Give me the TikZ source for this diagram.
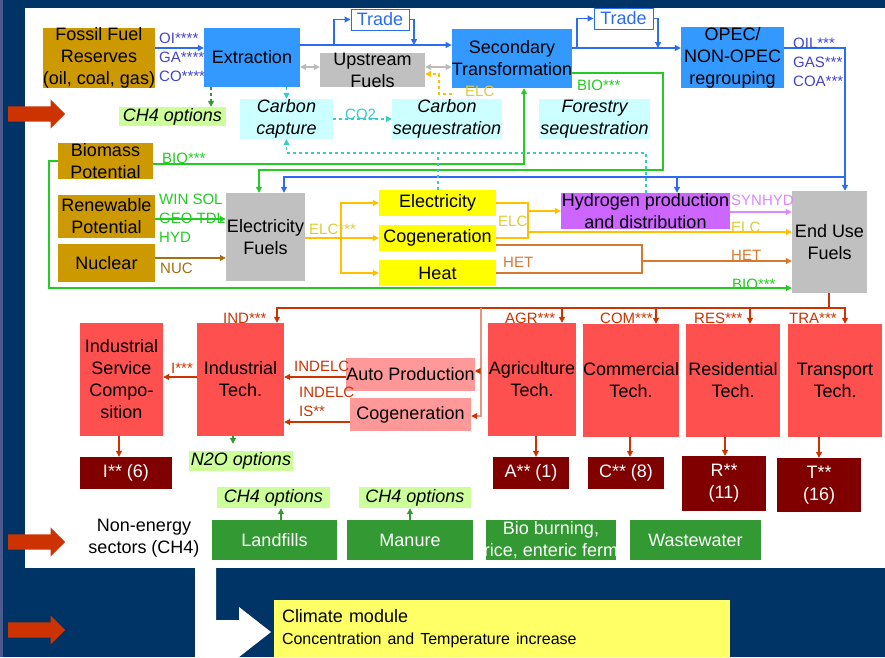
\documentclass[tikz,border=0pt]{standalone}
\usepackage{fontspec}
\setmainfont{Liberation Sans}
\usetikzlibrary{arrows.meta, shapes.arrows}
\definecolor{deep-navy}{HTML}{003366}
\definecolor{side-strip}{HTML}{4A5A8C}
\definecolor{fuel-gold}{HTML}{CC9900}
\definecolor{fuel-blue}{HTML}{3399FF}
\definecolor{fuel-gray}{HTML}{C0C0C0}
\definecolor{pale-cyan}{HTML}{CCFFFF}
\definecolor{pale-green}{HTML}{CCFF99}
\definecolor{power-yellow}{HTML}{FFFF00}
\definecolor{hydro-violet}{HTML}{CC66FF}
\definecolor{tech-red}{HTML}{FF5050}
\definecolor{tech-pink}{HTML}{FF9999}
\definecolor{out-maroon}{HTML}{800000}
\definecolor{ghg-green}{HTML}{339933}
\definecolor{climate-yellow}{HTML}{FFFF66}
\definecolor{pointer-red}{HTML}{CC3300}
\definecolor{flow-blue}{HTML}{2B6CF2}
\definecolor{label-violet}{HTML}{4444CC}
\definecolor{flow-green}{HTML}{22CC22}
\definecolor{flow-amber}{HTML}{FFC000}
\definecolor{label-amber}{HTML}{DDCC33}
\definecolor{flow-brown}{HTML}{A36F14}
\definecolor{flow-orange}{HTML}{D9782F}
\definecolor{flow-pink}{HTML}{DD88FF}
\definecolor{flow-cyan}{HTML}{33CCCC}
\definecolor{flow-red}{HTML}{CC3300}
\definecolor{flow-salmon}{HTML}{E8957F}
\definecolor{arrow-gray}{HTML}{BBBBBB}

\begin{document}
\begin{tikzpicture}[x=1pt, y=-1pt,
    >={Triangle[length=6pt, width=6pt]},
    every node/.style={font=\fontsize{18}{22}\selectfont, inner sep=0pt},
    dims/.style 2 args={minimum width=#1pt, minimum height=#2pt},
    fuelbox/.style={fill=fuel-gold, align=center},
    procbox/.style={fill=fuel-blue, align=center},
    graybox/.style={fill=fuel-gray, align=center},
    sinkbox/.style={fill=pale-cyan, align=center, font=\fontsize{18}{22}\selectfont\itshape},
    optbox/.style={fill=pale-green, font=\fontsize{18}{22}\selectfont\itshape},
    plantbox/.style={fill=power-yellow},
    techbox/.style={fill=tech-red, align=center},
    subbox/.style={fill=tech-pink},
    outbox/.style={fill=out-maroon, text=white, align=center},
    srcbox/.style={fill=ghg-green, text=white, align=center},
    tradebox/.style={draw=flow-blue, fill=white, text=flow-blue, line width=1pt},
    lbl/.style={font=\fontsize{15}{19}\selectfont, anchor=west, align=left},
    flow/.style={line width=1.2pt},
    salmonarr/.style={flow, flow-salmon, -{Triangle[length=6pt, width=6pt, color=flow-red]}},
    pointer/.style={single arrow, fill=pointer-red, anchor=tail, minimum height=57pt,
      minimum width=29pt, inner sep=7.5pt, single arrow head extend=7pt}]

  % slide background
  \fill[deep-navy] (0,0) rectangle (885,657);
  \fill[side-strip] (0,0) rectangle (3,657);
  \fill[white] (25,8) rectangle (885,568);

  % supply side
  \node[fuelbox, dims={112}{60}] (fossil) at (99,58) {Fossil Fuel\\Reserves\\(oil, coal, gas)};
  \node[procbox, dims={96}{59}] (extraction) at (252,57.5) {Extraction};
  \node[graybox, dims={105}{34}] (upstream) at (372.5,70) {Upstream\\Fuels};
  \node[procbox, dims={120}{59}] (secondary) at (512,58.5) {Secondary\\Transformation};
  \node[procbox, dims={103}{59}] (opec) at (732.5,57.5) {OPEC/\\NON-OPEC\\regrouping};
  \node[tradebox, dims={58}{21}] (trade1) at (380,19.5) {Trade};
  \node[tradebox, dims={59}{21}] (trade2) at (623.5,18.5) {Trade};
  \node[optbox, dims={107}{19}] (ch4-extr) at (172.5,116.5) {CH4 options};
  \node[sinkbox, dims={93}{40}] (capture) at (286.5,119) {Carbon\\capture};
  \node[sinkbox, dims={110}{40}] (sequest) at (447,119) {Carbon\\sequestration};
  \node[sinkbox, dims={111}{40}] (forestry) at (594.5,119) {Forestry\\sequestration};
  \node[fuelbox, dims={95}{34}] (biomass) at (105.5,161) {Biomass\\Potential};
  \node[fuelbox, dims={97}{43}] (renewable) at (106.5,216.5) {Renewable\\Potential};
  \node[fuelbox, dims={97}{38}] (nuclear) at (106.5,263) {Nuclear};
  \node[graybox, dims={79}{88}] (elecfuels) at (265.5,237) {Electricity\\Fuels};
  \node[plantbox, dims={117}{26}] (electricity) at (437.5,203) {Electricity};
  \node[plantbox, dims={117}{26}] (cogen) at (437.5,238) {Cogeneration};
  \node[plantbox, dims={117}{26}] (heat) at (437.5,273) {Heat};
  \node[fill=hydro-violet, align=center, dims={169}{36}] (hydrogen) at (645.5,211)
    {Hydrogen production\\and distribution};
  \node[graybox, dims={75}{102}] (enduse) at (829.5,242) {End Use\\Fuels};

  % demand side
  \node[techbox, dims={83}{113}] (isc) at (121.5,379.5) {Industrial\\Service\\Compo-\\sition};
  \node[techbox, dims={87}{113}] (indtech) at (240.5,379.5) {Industrial\\Tech.};
  \node[subbox, dims={121}{33}] (autoprod) at (410.5,374.5) {Auto Production};
  \node[subbox, dims={121}{33}] (cogen-ind) at (410.5,414.5) {Cogeneration};
  \node[techbox, dims={88}{113}] (agr) at (532,379.5) {Agriculture\\Tech.};
  \node[techbox, dims={94}{113}] (com) at (631,380.5) {Commercial\\Tech.};
  \node[techbox, dims={94}{113}] (res) at (733,380.5) {Residential\\Tech.};
  \node[techbox, dims={94}{113}] (tra) at (835,380.5) {Transport\\Tech.};
  \node[outbox, dims={92}{32}] (i-out) at (126,473) {I** (6)};
  \node[outbox, dims={76}{32}] (a-out) at (531,473) {A** (1)};
  \node[outbox, dims={76}{32}] (c-out) at (626,473) {C** (8)};
  \node[outbox, dims={84}{55}] (r-out) at (724,483.5) {R**\\(11)};
  \node[outbox, dims={84}{54}] (t-out) at (819,485) {T**\\(16)};
  \node[optbox, dims={104}{20}] (n2o) at (241,461) {N2O options};

  % non-energy sectors
  \node[align=center] (nonenergy) at (144,538) {Non-energy\\sectors (CH4)};
  \node[srcbox, dims={125}{40}] (landfills) at (274.5,540) {Landfills};
  \node[srcbox, dims={126}{40}] (manure) at (410,540) {Manure};
  \node[srcbox, dims={130}{40}] (bioburn) at (551,540) {};
  \begin{scope}
    \clip (bioburn.north west) rectangle (bioburn.south east);
    \node[text=white, align=center] (bioburn-txt) at (bioburn) {Bio burning,\\rice, enteric ferm};
  \end{scope}
  \node[srcbox, dims={131}{40}] (wastewater) at (695.5,540) {Wastewater};
  \node[optbox, dims={113}{21}] (ch4-land) at (273.5,497.5) {CH4 options};
  \node[optbox, dims={112}{21}] (ch4-man) at (415,497.5) {CH4 options};

  % climate module
  \fill[white] (195,568) -- (216,568) -- (216,620) -- (239,620) -- (239,607)
    -- (271,632) -- (239,657) -- (195,657) -- cycle;
  \node[fill=climate-yellow, dims={456}{57}, text width=440pt, align=left] (climate) at (502,628.5)
    {Climate module\\{\fontsize{16}{19}\selectfont Concentration and Temperature increase}};

  \node[pointer] (pointer-top) at (8,114) {};
  \node[pointer] (pointer-mid) at (8,542) {};
  \node[pointer] (pointer-low) at (8,630) {};

  % fuel chain
  \coordinate (trade1-in) at (334,45);
  \coordinate (trade1-out) at (414,45);
  \coordinate (trade2-in) at (577,48);
  \coordinate (trade2-out) at (658,48);
  \coordinate (blue-bus) at (845,177);
  \coordinate (blue-tap) at (677,177);
  \draw[flow, flow-blue, ->] (fossil.east |- 0,48) -- (extraction.west |- 0,48);
  \draw[flow, flow-blue, ->] (extraction.east |- 0,45) -- (secondary.west |- 0,45);
  \draw[flow, flow-blue, ->] (trade1-in) |- (trade1.west);
  \draw[flow, flow-blue, ->] (trade1.east) -| (trade1-out);
  \draw[flow, flow-blue, ->] (secondary.east |- 0,48) -- (opec.west |- 0,48);
  \draw[flow, flow-blue, ->] (trade2-in) |- (trade2.west);
  \draw[flow, flow-blue, ->] (trade2.east) -| (trade2-out);
  \draw[flow, flow-blue, ->] (opec.east |- 0,48) -| (enduse.north -| 845,0);
  \draw[flow, flow-blue, ->] (blue-bus) -| (elecfuels.north -| 284,0);
  \draw[flow, flow-blue, ->] (blue-tap) -- (hydrogen.north -| blue-tap);
  \draw[flow, arrow-gray, <->] (extraction.east |- 0,67) -- (upstream.west |- 0,67);
  \draw[flow, arrow-gray, <->] (upstream.east |- 0,67) -- (secondary.west |- 0,67);
  \draw[flow, flow-amber, dashed, ->] (secondary.west |- 0,94) -| (439,74) -- (upstream.east |- 0,74);

  % biomass and electricity
  \draw[flow, flow-green, ->] (biomass.east |- 0,164) -| (secondary.south -| 524,0);
  \draw[flow, flow-green, ->] (secondary.east |- 0,73) -| (663,170) -| (elecfuels.north -| 259,0);
  \draw[flow, flow-green, ->] (biomass.west |- 0,161) -| (49,288) -- (enduse.west |- 0,288);
  \draw[flow, flow-green, ->] (renewable.east |- 0,219) -- (elecfuels.west |- 0,219);
  \draw[flow, flow-brown, ->] (nuclear.east |- 0,258) -- (elecfuels.west |- 0,258);
  \coordinate (elc-split) at (341,238);
  \coordinate (elc-join) at (528,238);
  \coordinate (het-join) at (642,261);
  \draw[flow, flow-amber] (elecfuels.east |- elc-split) -- (elc-split);
  \draw[flow, flow-amber, ->] (elc-split) |- (electricity.west);
  \draw[flow, flow-amber, ->] (elc-split) -- (cogen.west);
  \draw[flow, flow-amber, ->] (elc-split) |- (heat.west);
  \draw[flow, flow-amber] (electricity.east) -| (elc-join) -- (cogen.east);
  \draw[flow, flow-amber, ->] (elc-join |- hydrogen.west) -- (hydrogen.west);
  \draw[flow, flow-amber, ->] (elc-join |- 0,232) -- (enduse.west |- 0,232);
  \draw[flow, flow-pink, ->] (hydrogen.east |- 0,212) -- (enduse.west |- 0,212);
  \draw[flow, flow-orange] (cogen.east |- 0,245) -| (het-join) |- (heat.east);
  \draw[flow, flow-orange, ->] (het-join) -- (enduse.west |- het-join);

  % capture and options
  \coordinate (ccs-tap) at (438,153);
  \draw[flow, flow-cyan, dashed, ->] (extraction.south -| capture.north) -- (capture.north);
  \draw[flow, flow-cyan, dashed, ->] (capture.east) -- (sequest.west);
  \draw[flow, flow-cyan, dashed, ->] (hydrogen.north -| 646,0) |- (capture.south |- ccs-tap) -- (capture.south);
  \draw[flow, flow-cyan, dashed] (electricity.north -| ccs-tap) -- (ccs-tap);
  \draw[flow, ghg-green, dashed, ->] (extraction.south -| 211,0) -- (ch4-extr.north -| 211,0);

  % end use to sectors
  \coordinate (sector-bus) at (829,308);
  \coordinate (ind-bus) at (481,308);
  \draw[flow, flow-red] (enduse.south -| sector-bus) -- (sector-bus);
  \draw[flow, flow-red, ->] (sector-bus) -| (indtech.north -| 277,0);
  \draw[flow, flow-red, ->] (sector-bus) -| (tra.north -| 845,0);
  \foreach \sect/\xpos in {agr/562, com/656, res/750}
    \draw[flow, flow-red, ->] (\xpos,308) -- (\sect.north -| \xpos,0);
  \draw[salmonarr] (ind-bus) |- (cogen-ind.east |- 0,416);
  \draw[salmonarr] (ind-bus |- 0,371) -- (autoprod.east |- 0,371);
  \draw[flow, flow-red, ->] (autoprod.west |- 0,377) -- (indtech.east |- 0,377);
  \draw[flow, flow-red, ->] (cogen-ind.west |- 0,422) -- (indtech.east |- 0,422);
  \draw[flow, flow-red, ->] (indtech.west |- 0,377) -- (isc.east |- 0,377);
  \draw[flow, flow-red, ->] (isc.south -| 119,0) -- (i-out.north -| 119,0);
  \foreach \src/\dst/\xpos in {agr/a-out/536, com/c-out/630, res/r-out/725, tra/t-out/819}
    \draw[flow, flow-red, ->] (\src.south -| \xpos,0) -- (\dst.north -| \xpos,0);
  \draw[flow, ghg-green, ->, shorten >=7pt] (indtech.south -| 233,0) -- (n2o.north -| 233,0);
  \draw[flow, ghg-green, ->] (landfills.north -| 281,0) -- (ch4-land.south -| 281,0);
  \draw[flow, ghg-green, ->] (manure.north -| 410,0) -- (ch4-man.south -| 410,0);

  % flow labels
  \node[lbl, text=label-violet] (fossil-lbl) at (159,57) {OI****\\GA****\\CO****};
  \node[lbl, text=label-violet] (opec-lbl) at (793,62) {OIL***\\GAS***\\COA***};
  \node[lbl, text=flow-green] (bio-lbl1) at (162,158) {BIO***};
  \node[lbl, text=flow-green] (bio-lbl2) at (577,85) {BIO***};
  \node[lbl, text=flow-green] (bio-lbl3) at (732,284) {BIO***};
  \node[lbl, text=flow-green] (ren-lbl) at (159,218) {WIN SOL\\GEO TDL\\HYD};
  \node[lbl, text=flow-brown] (nuc-lbl) at (160,268) {NUC};
  \node[lbl, text=label-amber] (elc-lbl1) at (465,91) {ELC};
  \node[lbl, text=label-amber] (elc-lbl2) at (309,229) {ELC***};
  \node[lbl, text=label-amber] (elc-lbl3) at (498,221) {ELC};
  \node[lbl, text=label-amber] (elc-lbl4) at (731,227) {ELC};
  \node[lbl, text=flow-pink] (syn-lbl) at (731,200) {SYNHYD};
  \node[lbl, text=flow-orange] (het-lbl1) at (503,262) {HET};
  \node[lbl, text=flow-orange] (het-lbl2) at (731,255) {HET};
  \node[lbl, text=flow-cyan] (co2-lbl) at (345,114) {CO2};
  \node[lbl, text=flow-red] (ind-lbl) at (223,318) {IND***};
  \node[lbl, text=flow-red] (agr-lbl) at (505,318) {AGR***};
  \node[lbl, text=flow-red] (com-lbl) at (600,318) {COM***};
  \node[lbl, text=flow-red] (res-lbl) at (694,318) {RES***};
  \node[lbl, text=flow-red] (tra-lbl) at (789,318) {TRA***};
  \node[lbl, text=flow-red] (i-lbl) at (171,368) {I***};
  \node[lbl, text=flow-red] (indelc-lbl1) at (294,366) {INDELC};
  \node[lbl, text=flow-red] (indelc-lbl2) at (299,402) {INDELC\\IS**};
\end{tikzpicture}
\end{document}
